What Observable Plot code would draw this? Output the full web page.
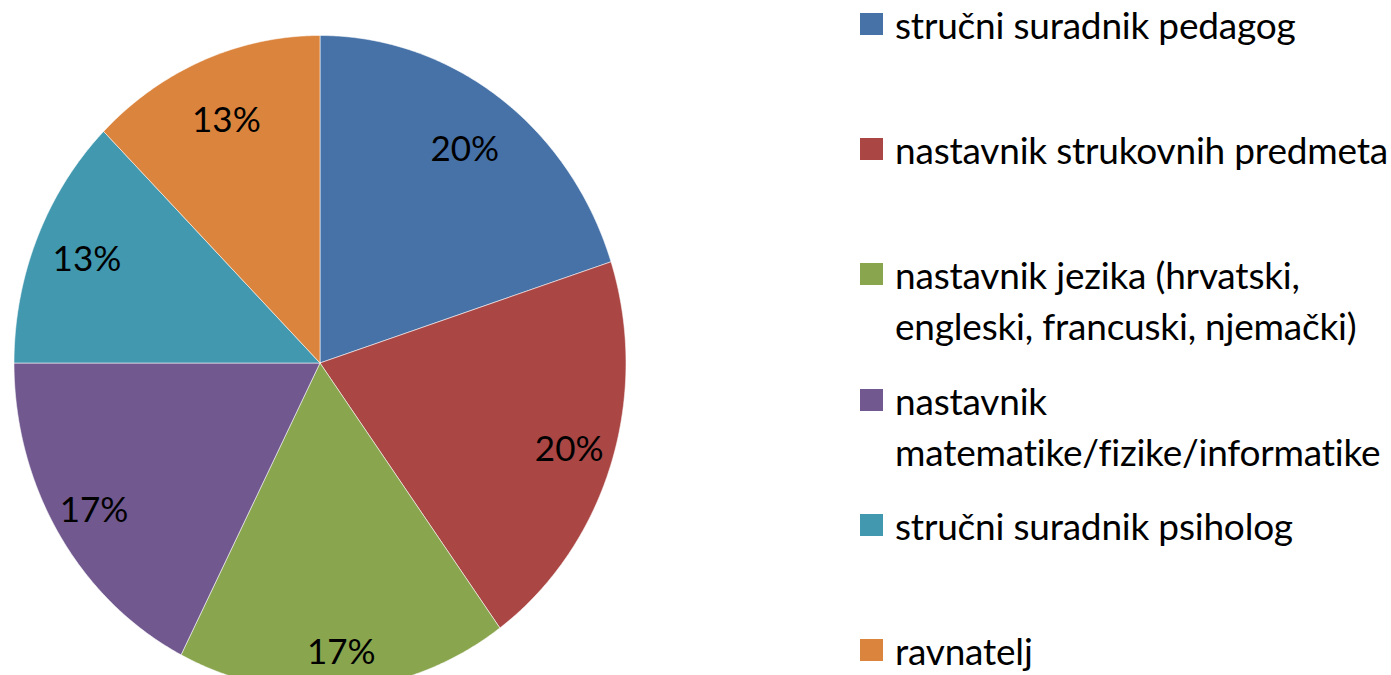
<!DOCTYPE html>
<html>
<head>
<meta charset="utf-8">
<script src="https://cdn.jsdelivr.net/npm/d3@7"></script>
<script src="https://cdn.jsdelivr.net/npm/@observablehq/plot@0.6"></script>
<style>
  html, body { margin: 0; padding: 0; background: #fff; }
  #wrap { position: relative; width: 1391px; height: 675px; overflow: hidden; background: #fff; }
  #chart { position: absolute; left: 0; top: 0; }
  #legend { position: absolute; left: 0; top: 0; width: 1391px; height: 675px; pointer-events: none; }
  .item { position: absolute; left: 860px; display: flex; align-items: flex-start; }
  .sw { width: 23px; height: 22px; flex: none; }
  .tx { margin-left: 12px; font-family: Lato, "Open Sans", sans-serif; font-size: 37px; line-height: 51px; color: #000; margin-top: -14px; letter-spacing: -0.2px; white-space: nowrap; }
</style>
</head>
<body>
<div id="wrap">
  <div id="chart"></div>
  <div id="legend"></div>
</div>
<script>
// ---- data ----
const categories = [
  "stručni suradnik pedagog",
  "nastavnik strukovnih predmeta",
  "nastavnik jezika (hrvatski, engleski, francuski, njemački)",
  "nastavnik matematike/fizike/informatike",
  "stručni suradnik psiholog",
  "ravnatelj"
];
const legendLines = [
  ["stručni suradnik pedagog"],
  ["nastavnik strukovnih predmeta"],
  ["nastavnik jezika (hrvatski,", "engleski, francuski, njemački)"],
  ["nastavnik", "matematike/fizike/informatike"],
  ["stručni suradnik psiholog"],
  ["ravnatelj"]
];
const counts = [8, 8, 7, 7, 5, 5];
const labels = ["20%", "20%", "17%", "17%", "13%", "13%"];
const colors = ["#4672A8", "#AA4644", "#89A54E", "#71588F", "#4198AF", "#DB843D"];

// ---- build slices (angles from d3.pie, clockwise from 12 o'clock) ----
const arcs = d3.pie().sort(null).value(d => d)(counts);
const outline = [];
arcs.forEach((a, i) => {
  const cat = categories[i];
  outline.push({cat, x: 0, y: 0});
  const n = Math.max(8, Math.ceil((a.endAngle - a.startAngle) / (Math.PI / 360)));
  for (let k = 0; k <= n; k++) {
    const t = a.startAngle + (a.endAngle - a.startAngle) * k / n;
    outline.push({cat, x: Math.sin(t), y: Math.cos(t)});
  }
  outline.push({cat, x: 0, y: 0});
});
// labels sit a little further out towards the bottom of the pie (like Excel's best fit)
const labelData = arcs.map((a, i) => {
  const m = (a.startAngle + a.endAngle) / 2;
  const r = 0.842 - 0.046 * Math.cos(m);
  return {cat: categories[i], label: labels[i], x: r * Math.sin(m), y: r * Math.cos(m)};
});

const chart = Plot.plot({
  width: 640,
  height: 675,
  x: {domain: [-1, 1], range: [13.5, 625.5], axis: null},
  y: {domain: [-1, 1], range: [690, 35], axis: null},
  color: {domain: categories, range: colors},
  style: {background: "transparent", overflow: "visible"},
  marks: [
    Plot.line(outline, {x: "x", y: "y", z: "cat", fill: "cat", stroke: "#ffffff", strokeOpacity: 0.55, strokeWidth: 1, curve: "linear"}),
    Plot.text(labelData, {x: "x", y: "y", text: "label", fill: "#000", fontSize: 35, fontFamily: "Lato, 'Open Sans', sans-serif", textAnchor: "middle", lineAnchor: "middle"})
  ]
});
document.getElementById("chart").appendChild(chart);

// ---- legend ----
const legend = document.getElementById("legend");
categories.forEach((c, i) => {
  const item = document.createElement("div");
  item.className = "item";
  item.style.top = (13 + i * 125.2) + "px";
  const sw = document.createElement("div");
  sw.className = "sw";
  sw.style.background = colors[i];
  const tx = document.createElement("div");
  tx.className = "tx";
  tx.innerHTML = legendLines[i].join("<br>");
  item.appendChild(sw);
  item.appendChild(tx);
  legend.appendChild(item);
});
</script>
</body>
</html>
